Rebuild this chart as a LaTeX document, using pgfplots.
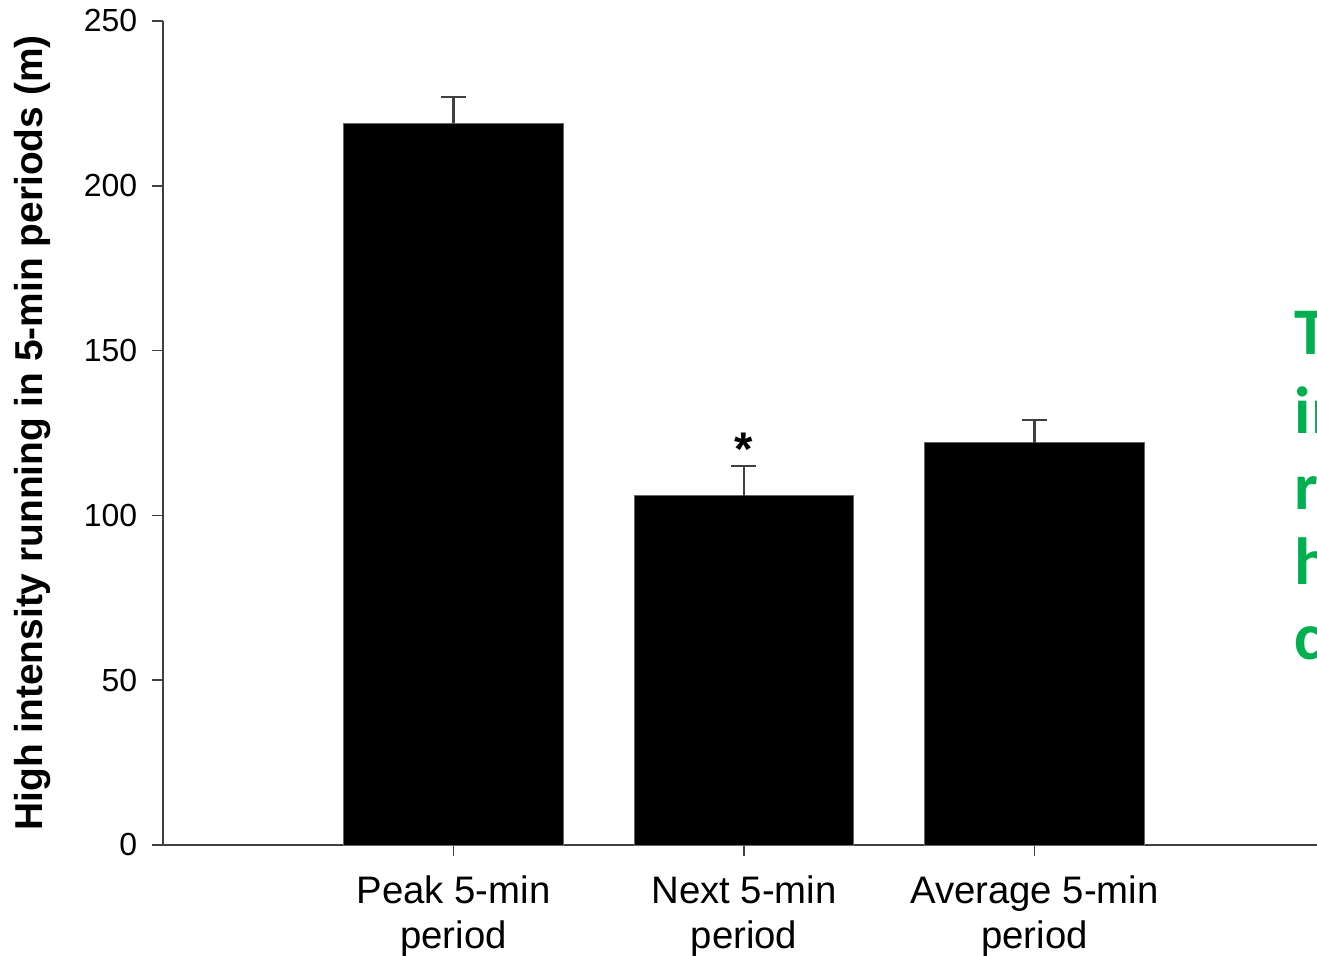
\documentclass[border=0pt]{standalone}
\usepackage{pgfplots}
\pgfplotsset{compat=1.18}
\usepackage{fontspec}
\setmainfont{Liberation Sans}
\newfontfamily\greenfont{Carlito}
\definecolor{slidegreen}{HTML}{00B050}
\begin{document}
\begin{tikzpicture}
\begin{axis}[
 scale only axis, width=418.32pt, height=296.64pt,
 xmin=0, xmax=4, ymin=0, ymax=250,
 axis x line*=bottom, axis y line*=left,
 axis line style={black!75, line width=0.6pt},
 tick align=outside, major tick length=4pt,
 tick style={black!75, line width=0.6pt},
 ytick={0,50,...,250},
 xtick={1,2,3},
 xticklabels={{Peak 5-min\\period},{Next 5-min\\period},{Average 5-min\\period}},
 xticklabel style={align=center, font=\fontsize{13.8}{16.2}\selectfont, yshift=-3.6pt},
 yticklabel style={font=\fontsize{11.5}{13}\selectfont, xshift=-1.8pt},
 /pgf/number format/assume math mode=true,
 clip=false,
]
\addplot[ybar, bar width=0.755, fill=black, draw=black!60, line width=0.3pt,
 error bars/.cd, y dir=plus, y explicit,
 error mark options={rotate=90, mark size=4.5pt, line width=0.8pt, draw=black!75},
 error bar style={line width=0.8pt, draw=black!75}]
 coordinates {(1,219) +- (0,8) (2,106) +- (0,9) (3,122) +- (0,7)};
\coordinate (ll) at (rel axis cs:0,0);
\node[font=\bfseries\fontsize{17}{17}\selectfont] at (axis cs:2,120) {*};
\node[rotate=90, font=\bfseries\fontsize{14}{16}\selectfont] at ([xshift=-46.8pt]rel axis cs:0,0.5) {High intensity running in 5-min periods (m)};
\end{axis}
\foreach \t/\y in {T/176.4, in/148.3, r/120.6, h/93.6, c/66.6}{
  \node[anchor=base west, inner sep=0pt, text=slidegreen, font=\greenfont\bfseries\fontsize{24}{24}\selectfont] at ([shift={(407.2pt,\y pt)}]ll) {\t};
}
\pgfresetboundingbox
\path[use as bounding box] ([shift={(-58.68pt,-39.96pt)}]ll) rectangle ([shift={(415.44pt,304.2pt)}]ll);
\end{tikzpicture}
\end{document}
